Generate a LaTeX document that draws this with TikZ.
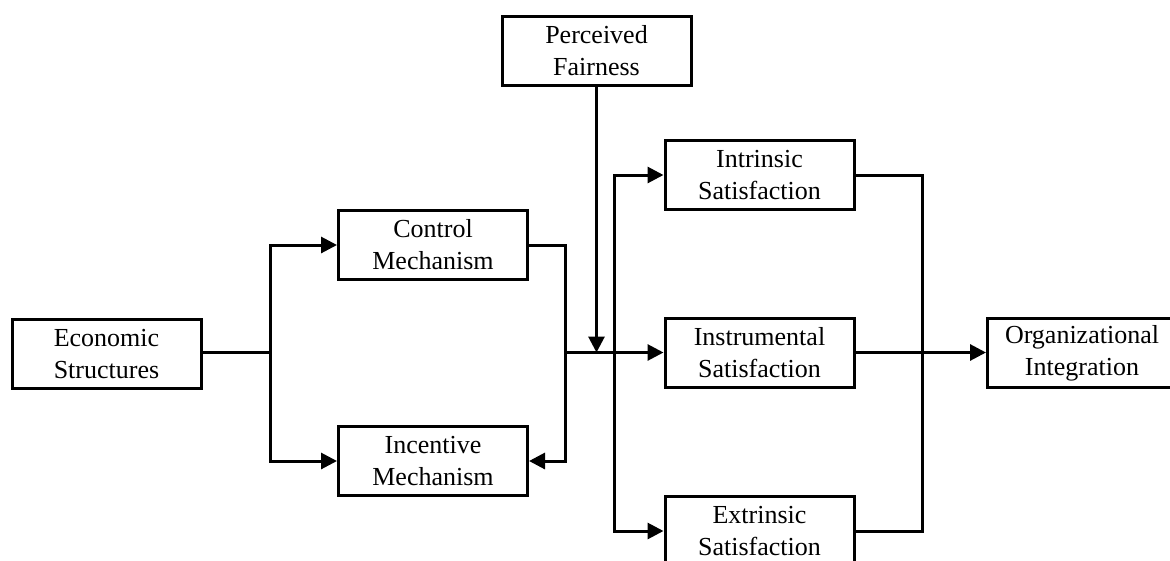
\documentclass[tikz,border=0pt]{standalone}
\usepackage{fontspec}
\setmainfont{Liberation Serif}
\usetikzlibrary{arrows.meta}
\begin{document}
\begin{tikzpicture}[x=1pt,y=-1pt,
  box/.style={draw,line width=3pt,minimum width=189pt,minimum height=69pt,
    inner sep=0pt,align=center,font=\fontsize{26}{32}\selectfont},
  link/.style={line width=3pt},
  arr/.style={link,-{Triangle[length=16pt,width=16pt]}}]
\useasboundingbox (0,0) rectangle (1170,560);
% boxes
\node[box] (econ)  at (106.5,354) {Economic\\Structures};
\node[box] (ctrl)  at (433,245)   {Control\\Mechanism};
\node[box] (inc)   at (433,461)   {Incentive\\Mechanism};
\node[box] (fair)  at (596.5,51)  {Perceived\\Fairness};
\node[box] (intr)  at (759.5,175) {Intrinsic\\Satisfaction};
\node[box] (instr) at (759.5,353) {Instrumental\\Satisfaction};
\node[box] (extr)  at (759.5,531) {Extrinsic\\Satisfaction};
\node[box] (org)   at (1082,353)  {Organizational\\Integration};
% branch and merge points
\coordinate (j1) at (270,352.5);
\coordinate (j2) at (565,352.5);
\coordinate (j3) at (614,352.5);
\coordinate (j4) at (922,352.5);
% economic structures to the two mechanisms
\draw[link] (econ.east |- j1) -- (j1);
\draw[arr] (j1) |- (ctrl.west);
\draw[arr] (j1) |- (inc.west);
% control mechanism feeds incentive mechanism and the satisfactions
\draw[arr] (ctrl.east) -| (j2) |- (inc.east);
\draw[arr] (j2) -- (instr.west |- j2);
\draw[arr] (fair.south) -- (fair.south |- j2);
\draw[arr] (j3) |- (intr.west);
\draw[arr] (j3) |- (extr.west);
% satisfactions to organizational integration
\draw[link] (intr.east) -| (j4);
\draw[link] (extr.east) -| (j4);
\draw[arr] (instr.east |- j4) -- (org.west |- j4);
\end{tikzpicture}
\end{document}
